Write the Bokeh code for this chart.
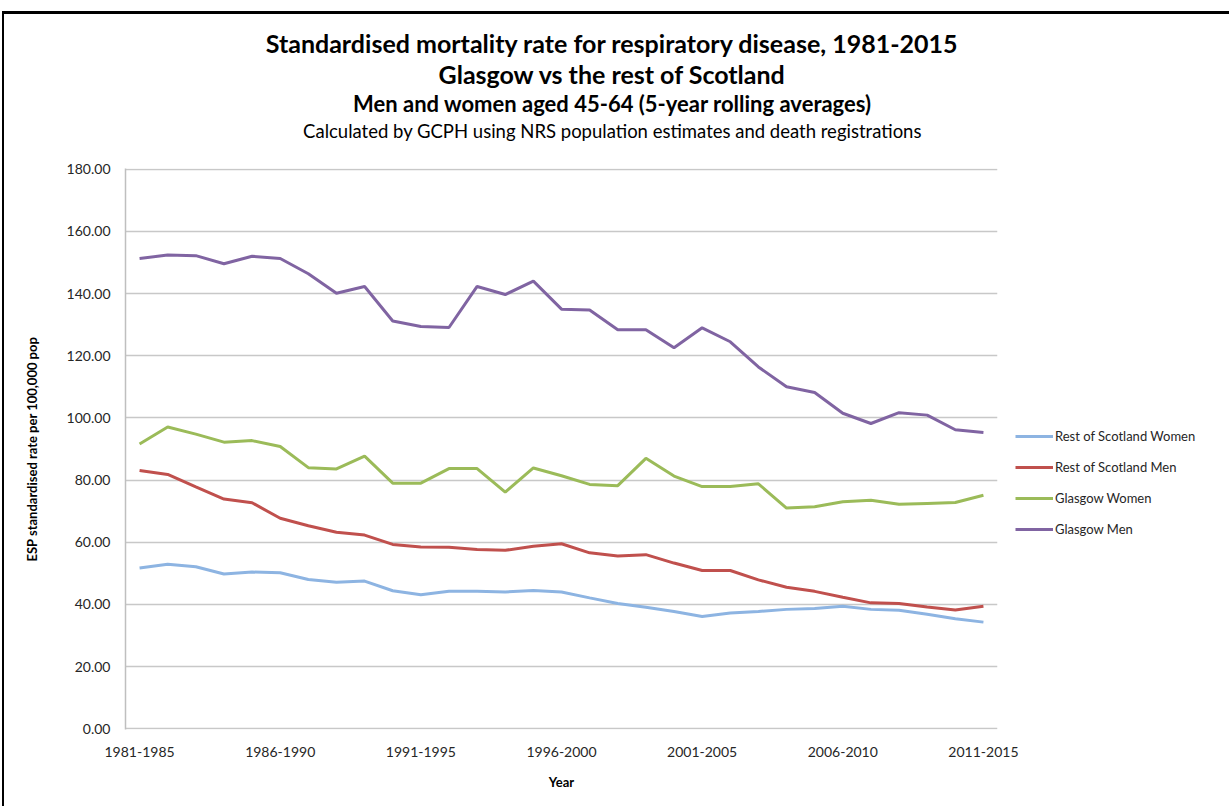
from bokeh.plotting import figure
from bokeh.layouts import column
from bokeh.models import (Range1d, FixedTicker, NumeralTickFormatter, Legend, LegendItem,
                          ColumnDataSource)
from bokeh.embed import file_html
from bokeh.resources import INLINE

periods = ["1981-1985", "1982-1986", "1983-1987", "1984-1988", "1985-1989",
           "1986-1990", "1987-1991", "1988-1992", "1989-1993", "1990-1994",
           "1991-1995", "1992-1996", "1993-1997", "1994-1998", "1995-1999",
           "1996-2000", "1997-2001", "1998-2002", "1999-2003", "2000-2004",
           "2001-2005", "2002-2006", "2003-2007", "2004-2008", "2005-2009",
           "2006-2010", "2007-2011", "2008-2012", "2009-2013", "2010-2014",
           "2011-2015"]

ros_women = [51.7, 52.9, 52.1, 49.8, 50.4, 50.2, 48.0, 47.1, 47.5, 44.4, 43.1, 44.2, 44.2, 44.0, 44.5,
             44.0, 42.1, 40.3, 39.1, 37.7, 36.1, 37.2, 37.7, 38.4, 38.7, 39.4, 38.4, 38.1, 36.8, 35.4, 34.3]
ros_men = [83.1, 81.8, 77.8, 73.9, 72.7, 67.7, 65.3, 63.2, 62.3, 59.3, 58.5, 58.4, 57.7, 57.4, 58.7,
           59.5, 56.6, 55.6, 56.0, 53.3, 50.9, 50.9, 47.9, 45.5, 44.2, 42.3, 40.5, 40.3, 39.2, 38.2, 39.4]
glasgow_women = [91.6, 97.1, 94.8, 92.2, 92.7, 90.8, 84.0, 83.6, 87.7, 79.0, 79.0, 83.7, 83.7, 76.1, 83.9,
                 81.4, 78.6, 78.2, 87.0, 81.3, 77.9, 77.9, 78.8, 71.0, 71.4, 73.0, 73.5, 72.2, 72.5, 72.8, 75.1]
glasgow_men = [151.3, 152.4, 152.2, 149.6, 152.0, 151.3, 146.4, 140.1, 142.3, 131.2, 129.4, 129.1, 142.3, 139.7, 144.0,
               135.0, 134.7, 128.4, 128.4, 122.6, 129.0, 124.5, 116.4, 110.0, 108.2, 101.5, 98.2, 101.7, 100.9, 96.2, 95.3]

series_names = ["Rest of Scotland Women", "Rest of Scotland Men", "Glasgow Women", "Glasgow Men"]
series_values = [ros_women, ros_men, glasgow_women, glasgow_men]
series_colors = ["#8DB4E2", "#C0504D", "#9BBB59", "#8064A2"]

title_lines = ["Standardised mortality rate for respiratory disease, 1981-2015",
               "Glasgow vs the rest of Scotland",
               "Men and women aged 45-64 (5-year rolling averages)",
               "Calculated by GCPH using NRS population estimates and death registrations"]
y_label = "ESP standardised rate per 100,000 pop"
x_label = "Year"

FONT = "Lato"
FRAME_W = 872
BORDER_L = 121
BORDER_R = 228

# ---------------- title block ----------------
HEAD_H = 144
t = figure(frame_width=FRAME_W, frame_height=HEAD_H,
           x_range=Range1d(0, FRAME_W), y_range=Range1d(0, HEAD_H),
           min_border_left=BORDER_L, min_border_right=BORDER_R, min_border_top=0, min_border_bottom=0,
           output_backend="svg", toolbar_location=None)
t.axis.visible = False
t.grid.visible = False
t.outline_line_color = None
title_y = [HEAD_H - 28, HEAD_H - 59, HEAD_H - 89, HEAD_H - 116]
title_sizes = ["25px", "25px", "22px", "18.5px"]
title_styles = ["bold", "bold", "bold", "normal"]
tsrc = ColumnDataSource(dict(x=[487] * 4, y=title_y, text=title_lines,
                             size=title_sizes, style=title_styles))
t.text(x="x", y="y", text="text", source=tsrc, text_align="center", text_baseline="middle",
       text_font_size="size", text_font_style="style", text_color="black",
       text_font={"value": FONT})

# ---------------- chart ----------------
x_idx = list(range(len(periods)))

p = figure(frame_width=FRAME_W, frame_height=561,
           min_border_left=BORDER_L, min_border_right=BORDER_R, min_border_top=10, min_border_bottom=77,
           x_range=Range1d(-0.5, len(periods) - 0.5), y_range=Range1d(-0.25, 180.25),
           output_backend="svg", toolbar_location=None)
p.outline_line_color = None
p.background_fill_color = "white"
p.border_fill_color = "white"

p.xaxis.ticker = FixedTicker(ticks=list(range(0, len(periods), 5)))
p.xaxis.major_label_overrides = {i: periods[i] for i in range(0, len(periods), 5)}
p.yaxis.ticker = FixedTicker(ticks=list(range(0, 181, 20)))
p.yaxis.formatter = NumeralTickFormatter(format="0.00")
for ax in (p.xaxis[0], p.yaxis[0]):
    ax.major_tick_line_color = None
    ax.minor_tick_line_color = None
    ax.major_label_text_font = FONT
    ax.major_label_text_font_size = "14px"
    ax.major_label_text_color = "#262626"
    ax.axis_label_text_font = FONT
    ax.axis_label_text_font_style = "bold"
    ax.axis_label_text_font_size = "13px"
    ax.axis_label_text_color = "black"
p.xaxis.axis_line_color = None
p.yaxis.axis_line_color = "#BFBFBF"
p.yaxis.axis_line_width = 1.5
p.xaxis.major_label_standoff = 11
p.yaxis.major_label_standoff = 9
p.xaxis.axis_label = x_label
p.yaxis.axis_label = y_label
p.xaxis.axis_label_standoff = 14
p.yaxis.axis_label_standoff = 24

p.xgrid.grid_line_color = None
p.ygrid.grid_line_color = "#C8C8C8"
p.ygrid.grid_line_width = 1.5

items = []
for name, vals, col in zip(series_names, series_values, series_colors):
    src = ColumnDataSource(dict(x=x_idx, y=vals))
    r = p.line("x", "y", source=src, line_color=col, line_width=3)
    items.append(LegendItem(label=name, renderers=[r]))

legend = Legend(items=items, location=(18, 190), orientation="vertical",
                label_text_font=FONT, label_text_font_size="13px", label_text_color="#262626",
                glyph_width=38, glyph_height=20, label_height=20, spacing=11,
                label_standoff=2, padding=0, margin=0,
                border_line_color=None, background_fill_alpha=0)
p.add_layout(legend, "right")

layout = column(t, p, spacing=0)
layout.styles = {"margin-top": "11px", "margin-left": "2px",
                 "border-top": "3px solid black", "border-left": "2px solid black",
                 "border-right": "2px solid black"}

open("out.html", "w").write(file_html(layout, INLINE))
